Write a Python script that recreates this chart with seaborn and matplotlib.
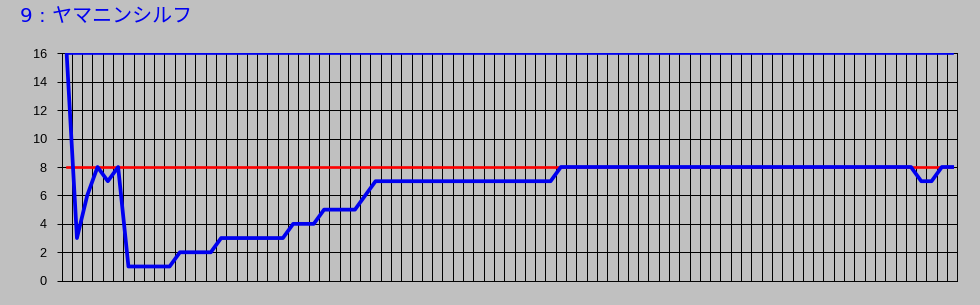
import matplotlib
matplotlib.use("Agg")
import matplotlib.pyplot as plt
import seaborn as sns
import pandas as pd
import numpy as np

# ---- data ----
title = "9 : ヤマニンシルフ"
rank_values = [16, 3, 6, 8, 7, 8,
               1, 1, 1, 1, 1,
               2, 2, 2, 2,
               3, 3, 3, 3, 3, 3, 3,
               4, 4, 4,
               5, 5, 5, 5,
               6,
               7, 7, 7, 7, 7, 7, 7, 7, 7, 7, 7, 7, 7, 7, 7, 7, 7, 7,
               8, 8, 8, 8, 8, 8, 8, 8, 8, 8, 8, 8, 8, 8, 8, 8, 8, 8, 8, 8,
               8, 8, 8, 8, 8, 8, 8, 8, 8, 8, 8, 8, 8, 8, 8,
               7, 7,
               8, 8]
field_size = 16
border_rank = 8
y_ticks = [0, 2, 4, 6, 8, 10, 12, 14, 16]

positions = list(range(len(rank_values)))
field_line = [field_size] * len(rank_values)
border_line = [border_rank] * len(rank_values)

df = pd.DataFrame({"pos": positions, "rank": rank_values,
                   "field": field_line, "border": border_line})

BG = "#c0c0c0"
W, H = 980, 305
fig = plt.figure(figsize=(W / 100, H / 100), dpi=100, facecolor=BG)
left, right, top, bottom = 61.5, 957.3, 53.3, 280.7
ax = fig.add_axes([left / W, 1 - bottom / H, (right - left) / W, (bottom - top) / H])
ax.set_facecolor(BG)

sns.lineplot(data=df, x="pos", y="border", color="#ff0000", lw=1.9, ax=ax, zorder=3)
sns.lineplot(data=df, x="pos", y="rank", color="#0000f0", lw=2.7, ax=ax, zorder=4)
sns.lineplot(data=df, x="pos", y="field", color="#0000f0", lw=1.9, ax=ax, zorder=4)

n = len(rank_values)
ax.set_xlim(-0.5, n - 0.5)
ax.set_ylim(0, 16)
ax.set_xticks(np.arange(-0.5, n, 1.0))
ax.set_yticks(y_ticks)
ax.set_yticklabels([str(t) for t in y_ticks], fontfamily="Liberation Sans", fontsize=9.2)
ax.grid(True, color="black", lw=0.6, antialiased=False)
ax.set_axisbelow(True)
ax.tick_params(axis="x", length=0, labelbottom=False)
ax.tick_params(axis="y", length=3.6, width=0.7, pad=7, colors="black")
for s in ax.spines.values():
    s.set_color("black")
    s.set_linewidth(0.7)
ax.set_xlabel("")
ax.set_ylabel("")

fig.text(20 / W, 1 - 22 / H, title, color="#0000f0", fontsize=14.4,
         family=["DejaVu Sans", "Noto Sans CJK JP"], va="baseline", ha="left")

fig.savefig("out.png", dpi=100, facecolor=BG)
